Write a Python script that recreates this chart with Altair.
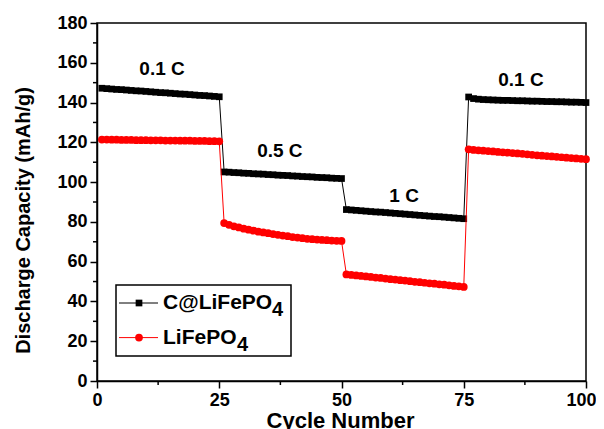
import altair as alt
import pandas as pd

FONT = "Liberation Sans"

cycles = list(range(1, 101))

c_lfp = [
    147.2, 147.0, 146.8, 146.6, 146.5, 146.3, 146.1, 145.9, 145.8, 145.6,
    145.4, 145.2, 145.0, 144.9, 144.7, 144.5, 144.3, 144.2, 144.0, 143.8,
    143.6, 143.5, 143.3, 143.1, 142.9,
    105.1, 105.0, 104.8, 104.7, 104.5, 104.4, 104.2, 104.1, 104.0, 103.8,
    103.7, 103.5, 103.4, 103.3, 103.1, 103.0, 102.8, 102.7, 102.6, 102.4,
    102.3, 102.2, 102.0, 101.9, 101.8,
    86.2, 86.0, 85.8, 85.6, 85.4, 85.2, 85.0, 84.9, 84.7, 84.5,
    84.3, 84.1, 83.9, 83.7, 83.5, 83.3, 83.1, 82.9, 82.7, 82.6,
    82.4, 82.2, 82.0, 81.8, 81.6,
    142.8, 142.0, 141.7, 141.5, 141.4, 141.3, 141.2, 141.1, 141.1, 141.0,
    140.9, 140.9, 140.8, 140.7, 140.7, 140.6, 140.5, 140.5, 140.4, 140.4,
    140.3, 140.2, 140.2, 140.1, 140.0,
]

lfp = [
    121.4, 121.4, 121.3, 121.3, 121.2, 121.2, 121.2, 121.1, 121.1, 121.1,
    121.0, 121.0, 121.0, 120.9, 120.9, 120.9, 120.8, 120.8, 120.8, 120.7,
    120.7, 120.7, 120.6, 120.6, 120.5,
    79.4, 78.5, 77.8, 77.2, 76.6, 76.1, 75.6, 75.1, 74.7, 74.3,
    73.9, 73.5, 73.1, 72.8, 72.4, 72.1, 71.8, 71.5, 71.3, 71.1,
    70.9, 70.8, 70.6, 70.5, 70.4,
    53.6, 53.3, 53.1, 52.8, 52.6, 52.3, 52.0, 51.8, 51.5, 51.2,
    51.0, 50.7, 50.5, 50.2, 49.9, 49.7, 49.4, 49.1, 48.9, 48.6,
    48.4, 48.1, 47.8, 47.6, 47.3,
    116.5, 116.2, 116.0, 115.8, 115.6, 115.4, 115.2, 115.0, 114.8, 114.6,
    114.4, 114.2, 114.0, 113.7, 113.5, 113.3, 113.1, 112.9, 112.7, 112.5,
    112.3, 112.1, 111.9, 111.7, 111.5,
]

series_names = ["C@LiFePO4", "LiFePO4"]
legend_main = ["C@LiFePO", "LiFePO"]
legend_sub = ["4", "4"]
series_colors = ["#000000", "#ff0000"]
series_shapes = ["square", "circle"]
series_sizes = [45, 60]

rate_labels = ["0.1 C", "0.5 C", "1 C", "0.1 C"]
rate_x = [13.3, 37.4, 62.8, 86.7]
rate_y = [156.7, 115.5, 92.8, 151.2]

x_major = [0, 25, 50, 75, 100]
x_minor = [12.5, 37.5, 62.5, 87.5]
y_major = [0, 20, 40, 60, 80, 100, 120, 140, 160, 180]
y_minor = [10, 30, 50, 70, 90, 110, 130, 150, 170]

df = pd.DataFrame({
    "cycle": cycles * 2,
    "capacity": c_lfp + lfp,
    "series": [series_names[0]] * len(cycles) + [series_names[1]] * len(cycles),
})

x_scale = alt.Scale(domain=[0, 100], nice=False, zero=False)
y_scale = alt.Scale(domain=[0, 180], nice=False)

x_axis = alt.Axis(
    values=x_major, title="Cycle Number", grid=False,
    tickSize=7, tickWidth=1.5, tickColor="black",
    domainWidth=1.5, domainColor="black",
    labelFont=FONT, labelFontSize=18, labelFontWeight="bold", labelColor="black",
    labelPadding=3, labelFlush=False, labelOverlap=False,
    labelOffset={"condition": {"test": "datum.value == 100", "value": -5}, "value": 0},
    titleFont=FONT, titleFontSize=22, titleFontWeight="bold", titleColor="black",
    titleX=243, titleY=39, titleBaseline="middle", titleAlign="center",
)
y_axis = alt.Axis(
    values=y_major, title="Discharge Capacity (mAh/g)", grid=False,
    tickSize=7, tickWidth=1.5, tickColor="black",
    domainWidth=1.5, domainColor="black",
    labelFont=FONT, labelFontSize=18, labelFontWeight="bold", labelColor="black",
    labelPadding=3, labelFlush=False, labelOverlap=False,
    titleFont=FONT, titleFontSize=20, titleFontWeight="bold", titleColor="black",
    titleX=-74, titleY=197, titleBaseline="middle", titleAlign="center", titleAngle=270,
)

base = alt.Chart(df).encode(
    x=alt.X("cycle:Q", scale=x_scale, axis=x_axis, title="Cycle Number"),
    y=alt.Y("capacity:Q", scale=y_scale, axis=y_axis, title="Discharge Capacity (mAh/g)"),
)

layers = []
for name, col, shp, sz in zip(series_names, series_colors, series_shapes, series_sizes):
    sub = base.transform_filter(alt.datum.series == name)
    layers.append(sub.mark_line(color=col, strokeWidth=1))
    layers.append(sub.mark_point(shape=shp, filled=True, size=sz, color=col, opacity=1))

# minor ticks
ymin_df = pd.DataFrame({"capacity": y_minor})
layers.append(
    alt.Chart(ymin_df).mark_rule(color="black", strokeWidth=1.5).encode(
        y=alt.Y("capacity:Q", scale=y_scale, axis=y_axis, title="Discharge Capacity (mAh/g)"),
        x=alt.value(-4), x2=alt.value(0),
    )
)
xmin_df = pd.DataFrame({"cycle": x_minor})
layers.append(
    alt.Chart(xmin_df).mark_rule(color="black", strokeWidth=1.5).encode(
        x=alt.X("cycle:Q", scale=x_scale, axis=x_axis, title="Cycle Number"),
        y=alt.value(358), y2=alt.value(362),
    )
)

# rate annotations
ann_df = pd.DataFrame({"label": rate_labels, "cycle": rate_x, "capacity": rate_y})
layers.append(
    alt.Chart(ann_df).mark_text(
        font=FONT, fontSize=19, fontWeight="bold", color="black",
        align="center", baseline="middle",
    ).encode(
        x=alt.X("cycle:Q", scale=x_scale, axis=x_axis, title="Cycle Number"),
        y=alt.Y("capacity:Q", scale=y_scale, axis=y_axis, title="Discharge Capacity (mAh/g)"),
        text="label:N",
    )
)

# legend
one = pd.DataFrame({"a": [0]})
layers.append(
    alt.Chart(one).mark_rect(fill="white", stroke="black", strokeWidth=1.5).encode(
        x=alt.value(19), x2=alt.value(194), y=alt.value(262), y2=alt.value(333),
    )
)
sub_x = [175, 140]
for i in range(2):
    yy = 280 + i * 34.6
    layers.append(
        alt.Chart(one).mark_rule(color=series_colors[i], strokeWidth=1).encode(
            x=alt.value(22), x2=alt.value(61), y=alt.value(yy),
        )
    )
    layers.append(
        alt.Chart(one).mark_point(
            shape=series_shapes[i], filled=True, size=series_sizes[i],
            color=series_colors[i], opacity=1,
        ).encode(x=alt.value(42), y=alt.value(yy))
    )
    layers.append(
        alt.Chart(one).mark_text(
            font=FONT, fontSize=21, fontWeight="bold", color="black",
            align="left", baseline="middle", text=legend_main[i],
        ).encode(x=alt.value(66), y=alt.value(yy))
    )
    layers.append(
        alt.Chart(one).mark_text(
            font=FONT, fontSize=20, fontWeight="bold", color="black",
            align="left", baseline="middle", text=legend_sub[i],
        ).encode(x=alt.value(sub_x[i]), y=alt.value(yy + 7))
    )

chart = alt.layer(*layers).properties(
    width=489, height=358,
    padding={"left": 89, "top": 15, "right": 10, "bottom": 56},
    autosize=alt.AutoSizeParams(type="none"),
    background="white",
).configure_view(
    stroke="black", strokeWidth=1.5,
)

chart.save("out.html", embed_options={"renderer": "svg", "actions": False})
